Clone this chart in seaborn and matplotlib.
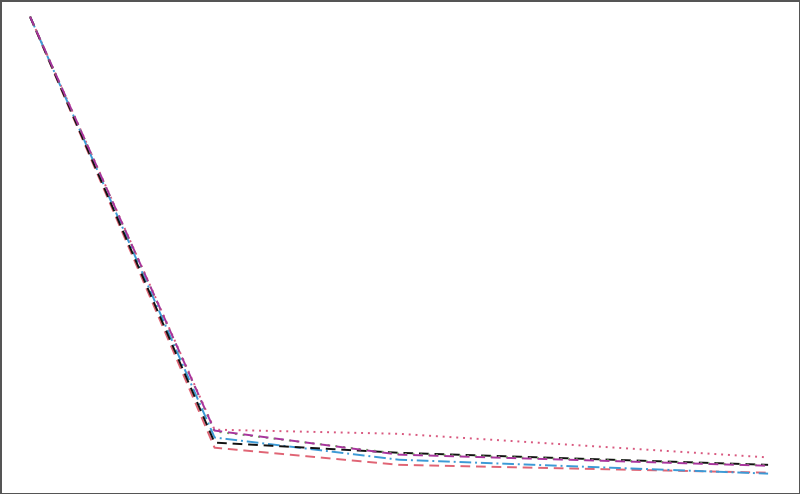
import pandas as pd
import numpy as np
import matplotlib
matplotlib.use("Agg")
import matplotlib.pyplot as plt
import seaborn as sns

# datos (escala normalizada, 1.0 = punto inicial)
steps = [0, 1, 2, 4]
serie_rosa = [1.0, 0.108, 0.099, 0.048]
serie_roja = [1.0, 0.069, 0.032, 0.015]
serie_azul = [1.0, 0.091, 0.043, 0.013]
serie_negra = [1.0, 0.080, 0.058, 0.032]
serie_verde = [1.0, 0.104, 0.056, 0.031]
serie_magenta = [1.0, 0.106, 0.054, 0.030]

names = ["rosa", "roja", "azul", "negra", "verde", "magenta"]
values = [serie_rosa, serie_roja, serie_azul, serie_negra, serie_verde, serie_magenta]

df = pd.DataFrame({
    "step": steps * len(names),
    "valor": np.concatenate(values),
    "serie": np.repeat(names, len(steps)),
})

palette = {
    "rosa": "#d9587f",
    "magenta": "#a8349c",
    "verde": "#70b860",
    "negra": "#111111",
    "azul": "#3c9ad6",
    "roja": "#e06474",
}
dashes = {
    "rosa": (1, 2.5),
    "magenta": (5, 3),
    "verde": (1, 3),
    "negra": (5, 3),
    "azul": (6, 2, 1, 2),
    "roja": (5, 3),
}

sns.set_style("white")
fig = plt.figure(figsize=(8, 4.94), dpi=100)
ax = fig.add_axes([0, 0, 1, 1])
sns.lineplot(data=df, x="step", y="valor", hue="serie", style="serie",
             palette=palette, dashes=dashes, linewidth=1.4, legend=False, ax=ax)

ax.set_xlim(-0.163, 4.173)
ax.set_ylim(-0.031, 1.036)
ax.axis("off")

fig.patch.set_edgecolor("#555555")
fig.patch.set_linewidth(2)

fig.savefig("out.png", dpi=100, edgecolor=fig.get_edgecolor())
